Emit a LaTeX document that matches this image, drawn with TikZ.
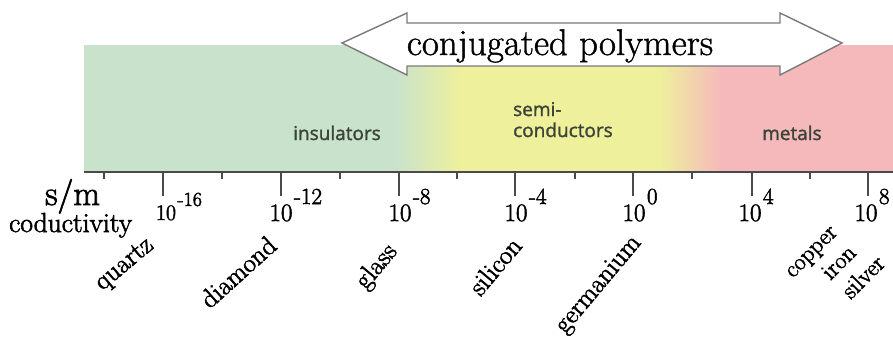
\documentclass[tikz,border=0pt]{standalone}
\usepackage{fontspec}
\newfontfamily\labsans{Open Sans}[FakeBold=1.5]
\newfontfamily\heavyserif{Latin Modern Roman}[FakeBold=2.2]
\newfontfamily\midserif{Latin Modern Roman}[FakeBold=1.2]
\definecolor{bgreen}{HTML}{C9E2CC}
\definecolor{byellow}{HTML}{EEF09C}
\definecolor{bpink}{HTML}{F5B9BC}
\definecolor{axisgray}{HTML}{4A4A4A}
\definecolor{arrowgray}{HTML}{7A7A7A}
\definecolor{regiontext}{HTML}{3C4438}
\newcommand\tenexp[3]{10\rlap{\hspace{1.5pt}\raisebox{#2}{\fontsize{#3}{#3}\selectfont#1}}}
\tikzset{
  majortick/.style={draw=axisgray, line width=2pt},
  minortick/.style={draw=axisgray, line width=2pt},
  ticklab/.style={anchor=base, inner sep=0pt, font=\heavyserif\fontsize{25}{25}\selectfont},
  region/.style={anchor=base west, inner sep=0pt, text=regiontext, font=\labsans\fontsize{19}{21}\selectfont, align=left},
  material/.style={rotate=45, inner sep=0pt, font=\heavyserif\fontsize{26.5}{27}\selectfont},
  blockarrow/.style={draw=arrowgray, fill=white, line width=1.4pt, line join=miter}
}
\begin{document}
\begin{tikzpicture}[x=1pt,y=-1pt]
\useasboundingbox (0,0) rectangle (893,341);
\fill[white] (0,0) rectangle (893,341);
% colour band
\fill[bgreen] (84,45) rectangle (396,172);
\shade[left color=bgreen, right color=byellow] (395,45) rectangle (461,172);
\fill[byellow] (460,45) rectangle (661,172);
\shade[left color=byellow, right color=bpink] (660,45) rectangle (721,172);
\fill[bpink] (720,45) rectangle (893,172);
% block arrow
\draw[blockarrow] (342,43) -- (407,13) -- (407,23) -- (780,23) -- (780,13) -- (842,43)
  -- (780,75) -- (780,66) -- (407,66) -- (407,75) -- cycle;
\node[anchor=base, inner sep=0pt, font=\midserif\fontsize{37}{37}\selectfont] (cp) at (560,55) {conjugated polymers};
% region labels
\node[region] (ins) at (293,140) {insulators};
\node[region] (semi) at (513,137) {semi-\\conductors};
\node[region] (met) at (762,140) {metals};
% axis
\draw[axisgray, line width=2.5pt] (84,172) -- (893,172);
\foreach \x in {163,281,399,515,633,752,868} \draw[majortick] (\x,172) -- (\x,196);
\foreach \x in {104,222,340,457,575,692,810} \draw[minortick] (\x,172) -- (\x,179);
% tick labels
\node[ticklab, font=\heavyserif\fontsize{22}{22}\selectfont] (e1) at (166,220) {\tenexp{-16}{14pt}{20}};
\node[ticklab] (e2) at (281,221) {\tenexp{-12}{17pt}{23}};
\node[ticklab] (e3) at (400,221) {\tenexp{-8}{17pt}{23}};
\node[ticklab] (e4) at (516,221) {\tenexp{-4}{17pt}{23}};
\node[ticklab] (e5) at (634,221) {\tenexp{0}{17pt}{23}};
\node[ticklab] (e6) at (750,221) {\tenexp{4}{17pt}{23}};
\node[ticklab] (e7) at (866,221) {\tenexp{8}{17pt}{23}};
% unit labels
\node[anchor=base west, inner sep=0pt, font=\heavyserif\fontsize{34.5}{35}\selectfont] (sm) at (45,205) {s/m};
\node[anchor=base west, inner sep=0pt, font=\heavyserif\fontsize{27.5}{28}\selectfont] (cod) at (9,232) {coductivity};
% materials
\node[material, rotate=-5] (quartz) at (125,265) {quartz};
\node[material, rotate=-3] (diamond) at (238,272) {diamond};
\node[material, rotate=5] (glass) at (377,267) {glass};
\node[material, rotate=5] (silicon) at (495,266) {silicon};
\node[material, rotate=5] (germ) at (599,285) {germanium};
\node[material, align=left, font=\heavyserif\fontsize{24}{28}\selectfont] (metalsnames) at (836,268)
  {copper\\\hspace*{25pt}iron\\\hspace*{26pt}silver};
\end{tikzpicture}
\end{document}
